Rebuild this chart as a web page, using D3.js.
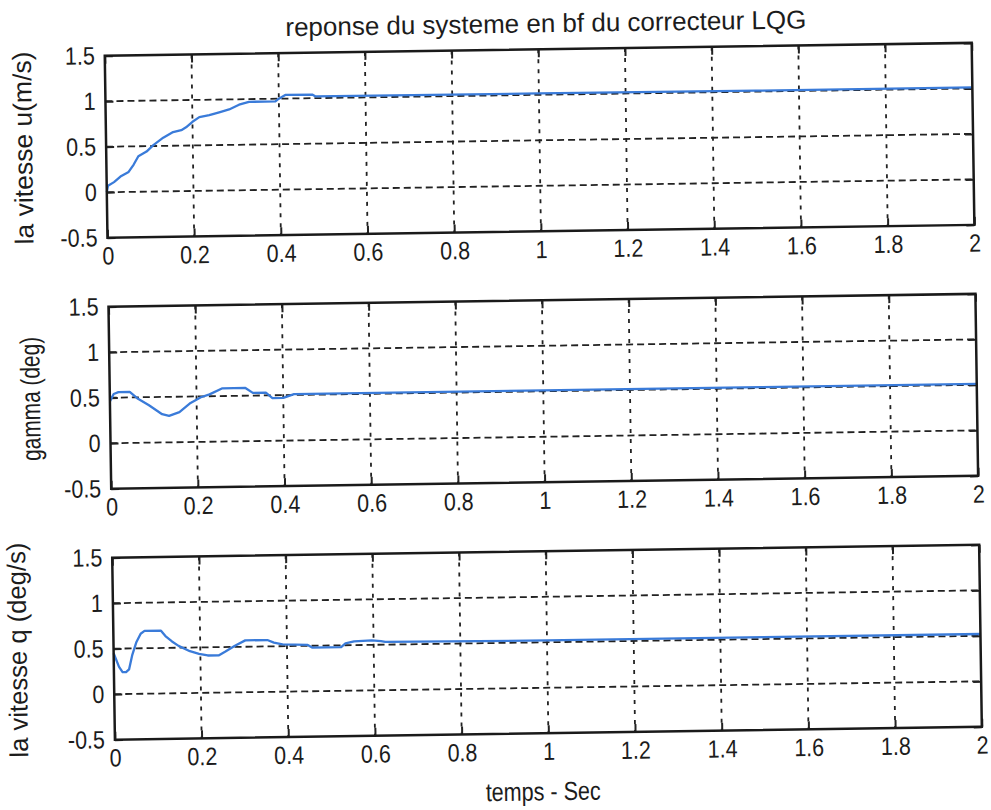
<!DOCTYPE html>
<meta charset="utf-8">
<style>
  body { margin: 0; background: #fff; }
  svg text { font-family: "Liberation Sans", Arial, sans-serif; fill: #1c1c1c; }
  .tick text { font-size: 25px; }
  .grid line { stroke: #222; stroke-width: 1.8; }
</style>
<body>
<svg width="991" height="810"></svg>
<script src="https://cdn.jsdelivr.net/npm/d3@7"></script>
<script>

// values
var titleText = "reponse du systeme en bf du correcteur LQG";
var xLabelText = "temps - Sec";
var yLabels = ["la vitesse u(m/s)", "gamma (deg)", "la vitesse q (deg/s)"];

var xTicks = [0, 0.2, 0.4, 0.6, 0.8, 1, 1.2, 1.4, 1.6, 1.8, 2];
var yTicks = [-0.5, 0, 0.5, 1, 1.5];

var timeU  = [0, 0.003, 0.017, 0.032, 0.051, 0.063, 0.074, 0.093, 0.109, 0.132, 0.155, 0.174, 0.185, 0.2, 0.216, 0.239, 0.262, 0.285, 0.308, 0.331, 0.392, 0.4, 0.415, 0.477, 0.484, 1, 1.5, 2];
var valueU = [0, 0.07, 0.11, 0.17, 0.22, 0.30, 0.39, 0.44, 0.51, 0.59, 0.65, 0.67, 0.70, 0.76, 0.81, 0.83, 0.86, 0.89, 0.94, 0.97, 0.97, 1.0, 1.04, 1.04, 1.02, 1.015, 1.01, 1.01];

var timeGamma  = [0, 0.009, 0.02, 0.046, 0.063, 0.09, 0.12, 0.136, 0.16, 0.186, 0.21, 0.23, 0.26, 0.313, 0.33, 0.36, 0.375, 0.4, 0.425, 1, 1.5, 2];
var valueGamma = [0.46, 0.54, 0.56, 0.56, 0.49, 0.41, 0.31, 0.29, 0.33, 0.43, 0.49, 0.52, 0.585, 0.585, 0.53, 0.53, 0.47, 0.47, 0.51, 0.51, 0.51, 0.51];

var timeQ  = [0, 0.012, 0.02, 0.028, 0.035, 0.043, 0.053, 0.063, 0.072, 0.11, 0.12, 0.135, 0.15, 0.176, 0.197, 0.217, 0.243, 0.258, 0.279, 0.304, 0.355, 0.37, 0.39, 0.448, 0.458, 0.525, 0.535, 0.555, 0.596, 0.617, 0.627, 1, 1.5, 2];
var valueQ = [0.45, 0.30, 0.24, 0.24, 0.27, 0.43, 0.57, 0.66, 0.69, 0.69, 0.63, 0.57, 0.52, 0.46, 0.43, 0.41, 0.41, 0.45, 0.51, 0.57, 0.57, 0.54, 0.52, 0.51, 0.48, 0.48, 0.52, 0.54, 0.55, 0.54, 0.53, 0.52, 0.52, 0.52];

var series = [
  { t: timeU, v: valueU },
  { t: timeGamma, v: valueGamma },
  { t: timeQ, v: valueQ }
];

// layout (the scan is tilted slightly, so the whole figure is rotated)
var left = 110, plotW = 867, plotH = 182;
var tops = [50, 301, 552];
var yLabelOffset = [74, 70, 87];
var yLabelLength = [193, 124, 215];
var yLabelSize = [26, 27, 26];

var svg = d3.select("svg");
var root = svg.append("g").attr("transform", "rotate(-0.85, 495, 405)");

var x = d3.scaleLinear().domain([0, 2]).range([0, plotW]);
var y = d3.scaleLinear().domain([-0.5, 1.5]).range([plotH, 0]);

var line = d3.line()
    .x(function(d) { return x(d[0]); })
    .y(function(d) { return y(d[1]); });

// squeeze a text horizontally, the scan uses a narrow face
function narrow(sel, k) {
  sel.each(function() {
    var w = this.getComputedTextLength();
    d3.select(this).attr("textLength", w * k).attr("lengthAdjust", "spacingAndGlyphs");
  });
}

series.forEach(function(s, i) {
  var g = root.append("g").attr("transform", "translate(" + left + "," + tops[i] + ")");

  // grid
  var grid = g.append("g").attr("class", "grid");
  grid.selectAll(".vg").data(xTicks.slice(1, -1)).enter().append("line")
      .attr("x1", function(d) { return x(d); }).attr("x2", function(d) { return x(d); })
      .attr("y1", 0).attr("y2", plotH)
      .attr("stroke-dasharray", "4,6");
  grid.selectAll(".hg").data(yTicks.slice(1, -1)).enter().append("line")
      .attr("x1", 0).attr("x2", plotW)
      .attr("y1", function(d) { return y(d); }).attr("y2", function(d) { return y(d); })
      .attr("stroke-dasharray", "7,4");

  // axes with inward ticks
  g.append("g").attr("transform", "translate(0," + plotH + ")")
      .call(d3.axisBottom(x).tickValues(xTicks).tickSize(-8).tickPadding(9).tickFormat(function(d) { return d; }));
  g.append("g")
      .call(d3.axisLeft(y).tickValues(yTicks).tickSize(-8).tickPadding(10).tickFormat(function(d) { return d; }));
  g.append("g").call(d3.axisTop(x).tickValues(xTicks).tickSize(-8).tickFormat(""));
  g.append("g").attr("transform", "translate(" + plotW + ",0)")
      .call(d3.axisRight(y).tickValues(yTicks).tickSize(-8).tickFormat(""));
  g.selectAll(".domain").remove();
  g.selectAll(".tick line").attr("stroke", "#222").attr("stroke-width", 2);
  g.selectAll(".tick text").attr("fill", "#1c1c1c").call(narrow, 0.86);

  // response curve
  g.append("path")
      .datum(s.t.map(function(t, k) { return [t, s.v[k]]; }))
      .attr("fill", "none")
      .attr("stroke", "#3a7bd9")
      .attr("stroke-width", 2.3)
      .attr("stroke-linejoin", "round")
      .attr("d", line);

  // box
  g.append("rect")
      .attr("width", plotW).attr("height", plotH)
      .attr("fill", "none").attr("stroke", "#1a1a1a").attr("stroke-width", 2.5);

  // y label
  g.append("text")
      .attr("transform", "translate(" + (-yLabelOffset[i]) + "," + (plotH / 2) + ") rotate(-90)")
      .attr("text-anchor", "middle")
      .attr("font-size", yLabelSize[i])
      .attr("textLength", yLabelLength[i])
      .attr("lengthAdjust", "spacingAndGlyphs")
      .text(yLabels[i]);
});

root.append("text")
    .attr("x", left + plotW / 2 + 8)
    .attr("y", tops[0] - 17)
    .attr("text-anchor", "middle")
    .attr("font-size", 26)
    .attr("textLength", 521)
    .attr("lengthAdjust", "spacingAndGlyphs")
    .text(titleText);

root.append("text")
    .attr("x", left + plotW / 2 - 6)
    .attr("y", tops[2] + plotH + 67)
    .attr("text-anchor", "middle")
    .attr("font-size", 26)
    .attr("textLength", 115)
    .attr("lengthAdjust", "spacingAndGlyphs")
    .text(xLabelText);

</script>
</body>
